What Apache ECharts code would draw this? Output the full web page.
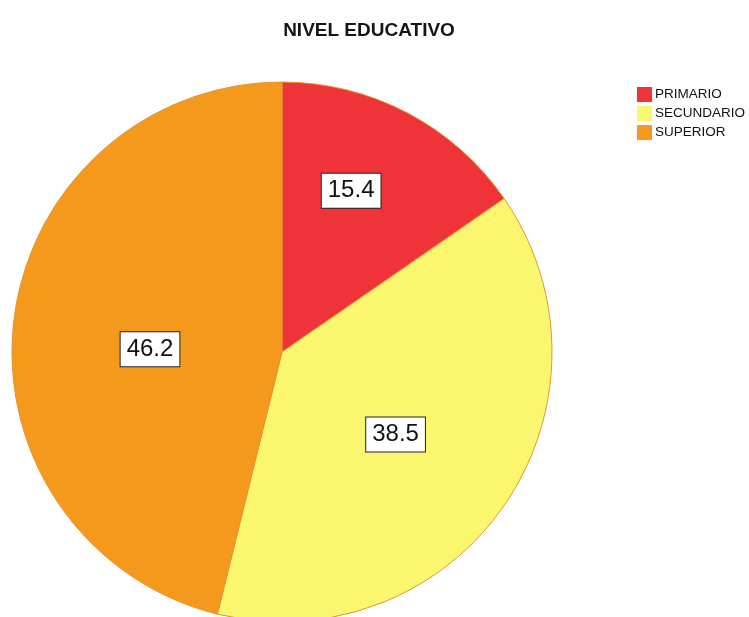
<!DOCTYPE html>
<html>
<head>
<meta charset="utf-8">
<script src="https://cdn.jsdelivr.net/npm/echarts@6/dist/echarts.min.js"></script>
<style>html,body{margin:0;padding:0;background:#fff}#c{width:749px;height:617px}</style>
</head>
<body>
<div id="c"></div>
<script>
const categories = ["PRIMARIO", "SECUNDARIO", "SUPERIOR"];
const values = [15.4, 38.5, 46.2];
const colors = ["#EE3438", "#FAF76E", "#F5991C"];
const titleText = "NIVEL EDUCATIVO";

// per-slice label nudges (style, not data)
const labelNudge = { PRIMARIO: [5, -39], SECUNDARIO: [0, 4], SUPERIOR: [5, 14] };

const chart = echarts.init(document.getElementById('c'), null, {renderer: 'canvas'});
const data = categories.map((n, i) => ({
  name: n,
  value: values[i],
  itemStyle: {color: colors[i]},
  label: {offset: labelNudge[n]}
}));
chart.setOption({
  animation: false,
  title: {
    text: titleText,
    left: 369, top: 21, textAlign: 'center', padding: 0,
    textStyle: {fontFamily: 'Liberation Sans', fontSize: 19, fontWeight: 'bold', color: '#151515'}
  },
  legend: {
    orient: 'vertical',
    left: 637, top: 87, padding: 0,
    itemWidth: 15, itemHeight: 15, itemGap: 4,
    icon: 'rect',
    itemStyle: {borderWidth: 0},
    textStyle: {fontFamily: 'Liberation Sans', fontSize: 13.5, color: '#111', padding: [0,0,0,-2]},
    data: categories
  },
  series: [{
    type: 'pie',
    center: [282, 352],
    radius: [0, 270],
    startAngle: 90,
    clockwise: true,
    itemStyle: {borderColor: '#E39432', borderWidth: 1},
    emphasis: {disabled: true},
    label: {
      position: 'inside',
      formatter: p => p.value.toFixed(1),
      fontFamily: 'Liberation Sans',
      fontSize: 24,
      color: '#111',
      backgroundColor: '#fff',
      borderColor: '#222',
      borderWidth: 1,
      padding: [6, 6, 4, 6]
    },
    data: data
  }]
});
</script>
</body>
</html>
